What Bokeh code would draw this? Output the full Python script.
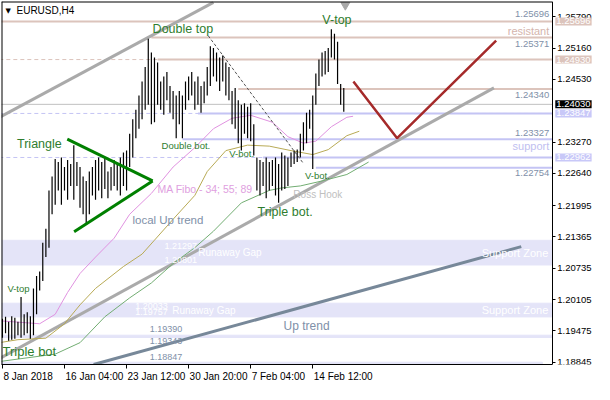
from bokeh.plotting import figure
from bokeh.models import (Range1d, FixedTicker, Label, NumeralTickFormatter, CustomJSTickFormatter,
                          LinearAxis)
from bokeh.embed import file_html
from bokeh.resources import INLINE

# ---------------- data (EURUSD H4) ----------------
bar_high = [1.1972, 1.1976, 1.1966, 1.1977, 1.1974, 1.1966, 1.2016, 1.1981, 1.1985, 1.1977,
            1.2033, 1.2058, 1.2067, 1.2125, 1.2153, 1.2230, 1.2258, 1.2293, 1.2287, 1.2296,
            1.2277, 1.2291, 1.2283, 1.2321, 1.2287, 1.2277, 1.2258, 1.2249, 1.2268, 1.2277,
            1.2291, 1.2296, 1.2287, 1.2296, 1.2268, 1.2277, 1.2291, 1.2283, 1.2296, 1.2306,
            1.2310, 1.2344, 1.2373, 1.2392, 1.2421, 1.2449, 1.2478, 1.2535, 1.2507, 1.2497,
            1.2487, 1.2449, 1.2459, 1.2468, 1.2440, 1.2430, 1.2421, 1.2430, 1.2421, 1.2449,
            1.2459, 1.2468, 1.2449, 1.2459, 1.2440, 1.2449, 1.2478, 1.2520, 1.2516, 1.2507,
            1.2497, 1.2501, 1.2487, 1.2478, 1.2430, 1.2436, 1.2411, 1.2402, 1.2405, 1.2398,
            1.2405, 1.2363, 1.2296, 1.2291, 1.2287, 1.2296, 1.2287, 1.2291, 1.2296, 1.2283,
            1.2306, 1.2300, 1.2296, 1.2306, 1.2310, 1.2312, 1.2344, 1.2367, 1.2386, 1.2392,
            1.2421, 1.2465, 1.2493, 1.2507, 1.2510, 1.2516, 1.2554, 1.2545, 1.2529, 1.2444,
            1.2436]
bar_low = [1.1934, 1.1943, 1.1928, 1.1930, 1.1932, 1.1939, 1.1934, 1.1939, 1.1943, 1.1932,
           1.1939, 1.1981, 1.2029, 1.2048, 1.2096, 1.2115, 1.2182, 1.2201, 1.2230, 1.2201,
           1.2230, 1.2211, 1.2239, 1.2211, 1.2239, 1.2195, 1.2182, 1.2163, 1.2182, 1.2220,
           1.2211, 1.2230, 1.2214, 1.2233, 1.2214, 1.2230, 1.2239, 1.2230, 1.2220, 1.2239,
           1.2230, 1.2277, 1.2296, 1.2335, 1.2354, 1.2373, 1.2392, 1.2402, 1.2363, 1.2367,
           1.2402, 1.2392, 1.2382, 1.2411, 1.2386, 1.2373, 1.2335, 1.2363, 1.2335, 1.2392,
           1.2411, 1.2421, 1.2392, 1.2402, 1.2386, 1.2405, 1.2421, 1.2440, 1.2459, 1.2449,
           1.2430, 1.2449, 1.2421, 1.2411, 1.2363, 1.2354, 1.2325, 1.2310, 1.2344, 1.2335,
           1.2329, 1.2300, 1.2230, 1.2220, 1.2239, 1.2214, 1.2230, 1.2239, 1.2220, 1.2205,
           1.2230, 1.2233, 1.2239, 1.2277, 1.2283, 1.2287, 1.2296, 1.2310, 1.2325, 1.2354,
           1.2273, 1.2402, 1.2440, 1.2459, 1.2463, 1.2468, 1.2497, 1.2493, 1.2444, 1.2402,
           1.2388]
bar_idx = list(range(len(bar_high)))

date_tick_bars = [0, 20, 40, 60, 80, 100]
date_tick_labels = ["8 Jan 2018", "16 Jan 04:00", "23 Jan 12:00", "30 Jan 20:00", "7 Feb 04:00", "14 Feb 12:00"]
price_ticks = [1.18845, 1.19475, 1.20105, 1.20735, 1.21365, 1.21995, 1.22640, 1.23270, 1.24530, 1.25160, 1.25790]

# Moving averages (Fibo 34 / 55 / 89), sampled along the curves
ma34_bar = [-1, 12, 17, 21, 25, 30, 36, 41, 48, 55, 62, 68, 74, 80, 87, 92, 97, 101, 106, 111, 113]
ma34_val = [1.1968, 1.1962, 1.1981, 1.2025, 1.2063, 1.2096, 1.2134, 1.2182, 1.2224, 1.2277, 1.2316,
            1.2354, 1.2375, 1.2381, 1.2367, 1.2338, 1.2325, 1.2329, 1.2358, 1.2377, 1.2379]
ma55_bar = [-1, 5, 14, 20, 25, 30, 39, 45, 49, 55, 62, 66, 72, 79, 86, 93, 100, 105, 111, 115]
ma55_val = [1.1924, 1.1930, 1.1933, 1.1962, 1.2000, 1.2033, 1.2077, 1.2102, 1.2130, 1.2172,
            1.2220, 1.2268, 1.2310, 1.2321, 1.2319, 1.2310, 1.2302, 1.2312, 1.2340, 1.2349]
ma89_bar = [-1, 5, 17, 25, 33, 41, 48, 55, 62, 68, 77, 86, 90, 96, 103, 111, 118]
ma89_val = [1.1886, 1.1891, 1.1901, 1.1924, 1.1976, 1.2014, 1.2044, 1.2083, 1.2115, 1.2148,
            1.2205, 1.2230, 1.2235, 1.2239, 1.2249, 1.2262, 1.2287]

# horizontal levels
res_levels = [1.25696, 1.25371, 1.24930, 1.24340]
res_start_bar = [-1, 48, 50, 76]
res_dashed = [1.24930]
sup_levels = [1.23847, 1.23327, 1.22962, 1.22754]
sup_start_bar = [63, 58, 84, 101]
sup_dashed = [1.23847, 1.22962]
bid_price = 1.24030

# support zones / gaps
zone_top = [1.21297, 1.20033, 1.19390, 1.18847]
zone_bottom = [1.20801, 1.19757, 1.19343, 1.18700]
zone_end_bar = [177.2, 177.2, 177.2, 174]

# trend lines (bar index, price)
chan_top_bar, chan_top_val = [-0.9, 68.0], [1.2377, 1.2608]
chan_bot_bar, chan_bot_val = [-0.9, 158.4], [1.1892, 1.2436]
uptrend_bar, uptrend_val = [29.4, 167.2], [1.1880, 1.2117]
tri_up_bar, tri_up_val = [20.9, 48.4], [1.2333, 1.2249]
tri_lo_bar, tri_lo_val = [23.1, 48.4], [1.2147, 1.2249]
proj_bar, proj_val = [113.1, 127.2, 159.1], [1.2449, 1.2335, 1.2531]
dtline_bar, dtline_val = [66.3, 96.9], [1.2541, 1.2285]

# ---------------- figure ----------------
FONT = "Liberation Sans"
X0, X_AX, X1 = -0.3, 177.2, 190.8     # left edge, price-axis position, right edge (bar units)
Y0, Y1 = 1.18801, 1.26097
W, H = 594, 384
FRAME_W = W - 1

ROSE = "#dcc4bc"
BLUE = "#c4c4f4"
BAND = "#e4e4f8"
SLATE = "#8090a8"
GREEN_TXT = "#2e7d2e"

p = figure(width=W, height=H,
           x_range=Range1d(X0, X1), y_range=Range1d(Y0, Y1),
           y_axis_location=None, output_backend="svg", toolbar_location=None,
           min_border_left=1, min_border_top=1, min_border_right=0, min_border_bottom=17)
p.background_fill_color = "white"
p.border_fill_color = "white"
p.outline_line_color = None
p.grid.visible = False

# zones
p.quad(left=[-1] * len(zone_top), right=zone_end_bar, top=zone_top, bottom=zone_bottom,
       fill_color=BAND, line_color=BAND, line_width=1)

# levels
for v in res_dashed:
    p.segment(x0=[-1], y0=[v], x1=[X_AX], y1=[v], line_color=ROSE, line_width=1, line_dash="4 3")
for v in sup_dashed:
    p.segment(x0=[-1], y0=[v], x1=[X_AX], y1=[v], line_color=BLUE, line_width=1, line_dash="4 3")
p.segment(x0=res_start_bar, y0=res_levels, x1=[X_AX] * len(res_levels), y1=res_levels,
          line_color=ROSE, line_width=2)
p.segment(x0=sup_start_bar, y0=sup_levels, x1=[X_AX] * len(sup_levels), y1=sup_levels,
          line_color=BLUE, line_width=2)
p.segment(x0=[-1], y0=[bid_price], x1=[X_AX], y1=[bid_price], line_color="#c0c0c0", line_width=1)

# trend lines
p.line(chan_top_bar, chan_top_val, line_color="#aaaaaa", line_width=3)
p.line(chan_bot_bar, chan_bot_val, line_color="#aaaaaa", line_width=3)
p.line(uptrend_bar, uptrend_val, line_color="#778899", line_width=3)

# moving averages
p.line(ma89_bar, ma89_val, line_color="#72ad72", line_width=1)
p.line(ma55_bar, ma55_val, line_color="#b8aa55", line_width=1)
p.line(ma34_bar, ma34_val, line_color="#e092e0", line_width=1)

p.line(dtline_bar, dtline_val, line_color="#555555", line_width=1, line_dash="3 2")

# price bars
p.segment(x0=bar_idx, y0=bar_low, x1=bar_idx, y1=bar_high, line_color="black", line_width=1.2)

p.line(tri_up_bar, tri_up_val, line_color="#008000", line_width=3)
p.line(tri_lo_bar, tri_lo_val, line_color="#008000", line_width=3)
p.line(proj_bar, proj_val, line_color="#a52a2a", line_width=2.5)

# chart shift marker
p.scatter(x=[len(bar_high) - 0.5], y=[Y1 - 0.0007], marker="inverted_triangle", size=9,
          fill_color="#a8a8a8", line_color="#a8a8a8")

# chart frame (top and left edges; right = price axis, bottom = time axis)
p.segment(x0=[X0, X0], y0=[Y1, Y0], x1=[X_AX, X0], y1=[Y1, Y1], line_color="black", line_width=2)

# ---------------- axes ----------------
ya = LinearAxis(fixed_location=X_AX, ticker=FixedTicker(ticks=price_ticks),
                formatter=NumeralTickFormatter(format="0.00000"))
ya.axis_line_color = "black"
ya.major_tick_line_color = "black"
ya.major_tick_out = 3
ya.major_tick_in = 0
ya.minor_tick_out = 0
ya.minor_tick_in = 0
ya.major_label_standoff = 2
ya.major_label_text_font = FONT
ya.major_label_text_font_size = "9.5px"
ya.major_label_text_color = "black"
p.add_layout(ya, "right")

PX_PER_BAR = FRAME_W / (X1 - X0)


def est_w(s, size):
    w = 0.0
    for ch in s:
        if ch in " :.,":
            w += 0.278
        elif ch == "J":
            w += 0.5
        elif ch == "F":
            w += 0.611
        else:
            w += 0.556
    return w * size


date_major = [b + (est_w(l, 10) / 2 + 1) / PX_PER_BAR for b, l in zip(date_tick_bars, date_tick_labels)]
xa = p.xaxis[0]
xa.bounds = (X0, X_AX)
xa.ticker = FixedTicker(ticks=date_major, minor_ticks=date_tick_bars)
xa.formatter = CustomJSTickFormatter(args=dict(pos=date_major, labels=date_tick_labels), code="""
let best = -1, bd = 1e9;
for (let i = 0; i < pos.length; i++) { const d = Math.abs(pos[i] - tick); if (d < bd) { bd = d; best = i; } }
return bd < 0.01 ? labels[best] : "";
""")
xa.axis_line_color = "black"
xa.major_tick_out = 0
xa.major_tick_in = 0
xa.minor_tick_out = 4
xa.minor_tick_in = 0
xa.minor_tick_line_color = "black"
xa.major_label_standoff = 2
xa.major_label_text_font = FONT
xa.major_label_text_font_size = "10px"
xa.major_label_text_color = "black"


# ---------------- texts ----------------
def txt(text, x, y, color, size, align="left", baseline="middle", xo=0, yo=0, bg=None, font=FONT):
    lab = Label(x=x, y=y, text=text, text_color=color, text_font_size=f"{size}px",
                text_align=align, text_baseline=baseline, x_offset=xo, y_offset=yo, text_font=font)
    if bg is not None:
        lab.background_fill_color = bg
        lab.padding = 1
    p.add_layout(lab)


# pattern labels
txt("Double top", 48.4, 1.2554, GREEN_TXT, 12.5)
txt("V-top", 103.1, 1.2573, GREEN_TXT, 12.5)
txt("Triangle", 4.7, 1.2323, GREEN_TXT, 12.5)
txt("Double bot.", 51.3, 1.2321, GREEN_TXT, 9.5)
txt("V-bot.", 73.1, 1.2304, GREEN_TXT, 9.5)
txt("V-bot.", 97.5, 1.2260, GREEN_TXT, 9.5)
txt("Triple bot.", 82.2, 1.2186, GREEN_TXT, 12.5)
txt("V-top", 1.6, 1.2033, GREEN_TXT, 9.5)
txt("Triple bot", X0, 1.1907, GREEN_TXT, 13, xo=1)
txt("MA Fibo - 34; 55; 89", 50, 1.2233, "#e0a0e0", 10.5)
txt("Ross Hook", 93.75, 1.2222, "#c0c0c0", 10)
txt("local Up trend", 41.9, 1.2170, SLATE, 11.5)
txt("Up trend", 90.6, 1.1958, SLATE, 12)

# level texts at the right edge of the chart area
txt(f"{res_levels[0]:.5f}", X_AX, res_levels[0], SLATE, 9.5, align="right", xo=-3, yo=7)
txt("resistant", X_AX, res_levels[1], "#d4b4ac", 11, align="right", xo=-3, yo=7)
txt(f"{res_levels[1]:.5f}", X_AX, res_levels[1], SLATE, 9.5, align="right", xo=-3, yo=-6)
txt(f"{res_levels[3]:.5f}", X_AX, res_levels[3], SLATE, 9.5, align="right", xo=-3, yo=-6)
txt(f"{sup_levels[1]:.5f}", X_AX, sup_levels[1], SLATE, 9.5, align="right", xo=-3, yo=6)
txt("support", X_AX, sup_levels[1], "#c0c0f0", 11, align="right", xo=-3, yo=-7)
txt(f"{sup_levels[3]:.5f}", X_AX, sup_levels[3], SLATE, 9.5, align="right", xo=-3, yo=-5)

# zone texts
for i in range(2):
    mid = (zone_top[i] + zone_bottom[i]) / 2
    txt("Support Zone", X_AX, mid, "white", 11, align="right", xo=-4)
txt("Runaway Gap", 63.1, (zone_top[0] + zone_bottom[0]) / 2, "white", 10)
txt("Runaway Gap", 54.7, (zone_top[1] + zone_bottom[1]) / 2, "white", 10)
txt(f"{zone_top[0]:.5f}", 52.2, zone_top[0], "white", 9, yo=-6)
txt(f"{zone_bottom[0]:.5f}", 52.2, zone_bottom[0], "white", 9, yo=5)
txt(f"{zone_top[1]:.5f}", 42.8, zone_top[1], "white", 9, yo=-3)
txt(f"{zone_bottom[1]:.5f}", 42.8, zone_bottom[1], "white", 9, yo=5)
txt(f"{zone_top[2]:.5f}", 47.5, zone_top[2], SLATE, 9, yo=6)
txt(f"{zone_bottom[2]:.5f}", 47.5, zone_bottom[2], SLATE, 9, yo=-3)
txt(f"{zone_top[3]:.5f}", 47.5, zone_top[3], SLATE, 9, yo=5)

# price boxes on the price axis
axis_boxes = [(res_levels[0], ROSE), (res_levels[2], ROSE), (bid_price, "black"),
              (sup_levels[0], "#c8c8f8"), (sup_levels[2], "#c8c8f8")]
for v, c in axis_boxes:
    txt(f"{v:.5f}", X_AX, v, "white", 9.5, xo=3, bg=c)

# symbol caption
txt("\u25bc", X0, Y1, "black", 7, xo=4, yo=-9, font="DejaVu Sans")
txt("EURUSD,H4", X0, Y1, "black", 10, xo=15, yo=-9)

open("out.html", "w").write(file_html(p, INLINE))
